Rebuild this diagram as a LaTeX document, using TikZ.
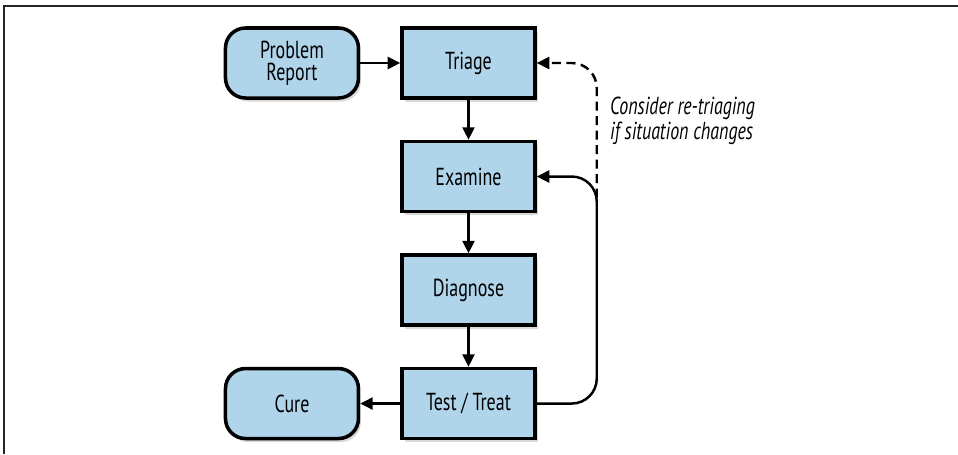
\documentclass[tikz,border=0pt]{standalone}
\usepackage{fontspec}
\setmainfont[FakeStretch=0.73]{PT Sans}
\usepackage{tikz}
\usetikzlibrary{positioning,shadows,arrows.meta}
\definecolor{boxblue}{RGB}{176,212,234}

\begin{document}
\begin{tikzpicture}[
        every node/.style = {font=\fontsize{14}{12.5}\selectfont, align=center},
        stage/.style = {draw, line width=2pt, fill=boxblue,
            minimum width=2.66cm, minimum height=1.4cm,
            drop shadow={shadow xshift=0.05cm, shadow yshift=-0.07cm, opacity=0.3}},
        terminal/.style = {stage, rounded corners=0.4cm},
        flow/.style = {-{Triangle[length=0.25cm, width=0.24cm]}, line width=1.4pt},
        node distance = 0.8cm
        ]
        \useasboundingbox (0,0) rectangle (19.16,-9.08);
        \draw[line width=1pt, black!85] (19.16,-0.12) -- (0.08,-0.12) -- (0.08,-9.08);

        \node[stage] (triage) at (9.37,-1.26) {Triage};
        \node[stage, below=of triage] (examine) {Examine};
        \node[stage, below=of examine] (diagnose) {Diagnose};
        \node[stage, below=of diagnose] (test) {Test / Treat};
        \node[terminal, left=of triage] (report) {Problem\\Report};
        \node[terminal, left=of test] (cure) {Cure};

        \draw[flow] (report) -- (triage);
        \draw[flow] (triage) -- (examine);
        \draw[flow] (examine) -- (diagnose);
        \draw[flow] (diagnose) -- (test);
        \draw[flow] (test) -- (cure);

        \coordinate (bend) at ([xshift=1.2cm]examine.east);
        \draw[flow, rounded corners=0.5cm] (test.east) -| (bend) -- (examine.east);
        \draw[flow, dash pattern=on 0.18cm off 0.11cm, rounded corners=0.5cm]
            ([yshift=-0.42cm]bend) |- (triage.east);
        \node[anchor=west, align=left, font=\fontsize{14}{14.2}\selectfont\itshape] (note)
            at (12.08,-2.41) {Consider re-triaging\\if situation changes};
\end{tikzpicture}
\end{document}
